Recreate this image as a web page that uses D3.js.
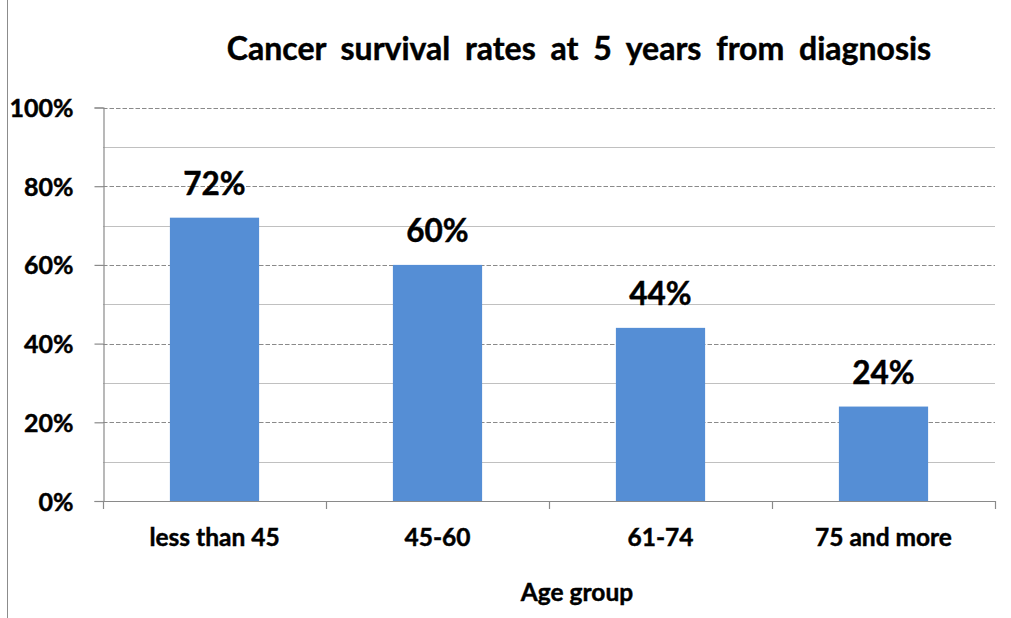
<!DOCTYPE html>
<html>
<head>
<meta charset="utf-8">
<script src="https://cdn.jsdelivr.net/npm/d3@7"></script>
<style>
  html, body { margin: 0; padding: 0; background: #ffffff; }
  svg { display: block; }
  text { font-family: Lato, "Open Sans", sans-serif; font-weight: bold; fill: #000; stroke: #000; stroke-width: 0.45px; }
</style>
</head>
<body>
<svg id="chart" width="1011" height="618"></svg>
<script>
// Age groups and the share of patients alive five years after diagnosis
const categories = ["less than 45", "45-60", "61-74", "75 and more"];
const survival = [0.72, 0.60, 0.44, 0.24];
const majorTicks = [0, 0.2, 0.4, 0.6, 0.8, 1.0];
const minorTicks = [0.1, 0.3, 0.5, 0.7, 0.9];
const titleText = "Cancer survival rates at 5 years from diagnosis";
const xTitle = "Age group";

const svg = d3.select("#chart");
const plot = { left: 103, right: 995, top: 107.5, bottom: 501 };

const x = d3.scaleBand()
  .domain(categories)
  .range([plot.left, plot.right])
  .paddingInner(0.6)
  .paddingOuter(0.3);

const y = d3.scaleLinear()
  .domain([0, 1])
  .range([plot.bottom, plot.top]);

const pct = d3.format(".0%");

// chart frame edge on the left
svg.append("line")
  .attr("x1", 7.5).attr("x2", 7.5)
  .attr("y1", 0).attr("y2", 618)
  .attr("stroke", "#8c8c8c").attr("stroke-width", 1);

// minor gridlines (solid)
svg.append("g").selectAll("line")
  .data(minorTicks)
  .join("line")
  .attr("x1", plot.left).attr("x2", plot.right)
  .attr("y1", d => Math.round(y(d)) + 0.5)
  .attr("y2", d => Math.round(y(d)) + 0.5)
  .attr("stroke", "#c0c0c0").attr("stroke-width", 1.2);

// major gridlines (dashed)
svg.append("g").selectAll("line")
  .data(majorTicks.filter(d => d > 0))
  .join("line")
  .attr("x1", plot.left).attr("x2", plot.right)
  .attr("y1", d => Math.round(y(d)) + 0.5)
  .attr("y2", d => Math.round(y(d)) + 0.5)
  .attr("stroke", "#8a8a8a").attr("stroke-width", 1.2)
  .attr("stroke-dasharray", "4.5,2");

// y axis
const yAxis = svg.append("g")
  .attr("transform", `translate(${plot.left + 0.5},0)`)
  .call(d3.axisLeft(y).tickValues(majorTicks).tickFormat(pct).tickSize(9).tickPadding(21));
yAxis.select(".domain").attr("stroke", "#8a8a8a").attr("stroke-width", 1.2);
yAxis.selectAll(".tick line").attr("stroke", "#8a8a8a").attr("stroke-width", 1.2);
yAxis.selectAll(".tick text")
  .attr("font-size", 25)
  .attr("font-family", "Lato, sans-serif")
  .attr("font-weight", "bold")
  .attr("fill", "#000")
  .attr("dy", "0.36em");

// bars
svg.append("g").selectAll("rect")
  .data(categories)
  .join("rect")
  .attr("x", d => x(d))
  .attr("width", x.bandwidth())
  .attr("y", (d, i) => y(survival[i]))
  .attr("height", (d, i) => y(0) - y(survival[i]))
  .attr("fill", "#558ed5");

// x axis line with ticks at category boundaries
const boundaries = d3.range(categories.length + 1).map(i => plot.left + i * x.step());
svg.append("line")
  .attr("x1", plot.left).attr("x2", plot.right)
  .attr("y1", Math.round(y(0)) + 0.5).attr("y2", Math.round(y(0)) + 0.5)
  .attr("stroke", "#8a8a8a").attr("stroke-width", 1.2);
svg.append("g").selectAll("line")
  .data(boundaries)
  .join("line")
  .attr("x1", d => Math.round(d) + 0.5).attr("x2", d => Math.round(d) + 0.5)
  .attr("y1", Math.round(y(0))).attr("y2", Math.round(y(0)) + 8)
  .attr("stroke", "#8a8a8a").attr("stroke-width", 1.2);

// category labels
svg.append("g").selectAll("text")
  .data(categories)
  .join("text")
  .attr("x", d => x(d) + x.bandwidth() / 2)
  .attr("y", 546)
  .attr("text-anchor", "middle")
  .attr("font-size", 24.5)
  .text(d => d);

// value labels above bars
svg.append("g").selectAll("text")
  .data(categories)
  .join("text")
  .attr("x", d => x(d) + x.bandwidth() / 2)
  .attr("y", (d, i) => y(survival[i]) - 22.5)
  .attr("text-anchor", "middle")
  .attr("font-size", 31.5)
  .text((d, i) => pct(survival[i]));

// chart title
svg.append("text")
  .attr("x", 579)
  .attr("y", 60)
  .attr("text-anchor", "middle")
  .attr("font-size", 32)
  .attr("word-spacing", 7)
  .text(titleText);

// axis title
svg.append("text")
  .attr("x", 577)
  .attr("y", 600.5)
  .attr("text-anchor", "middle")
  .attr("font-size", 24.5)
  .text(xTitle);
</script>
</body>
</html>
